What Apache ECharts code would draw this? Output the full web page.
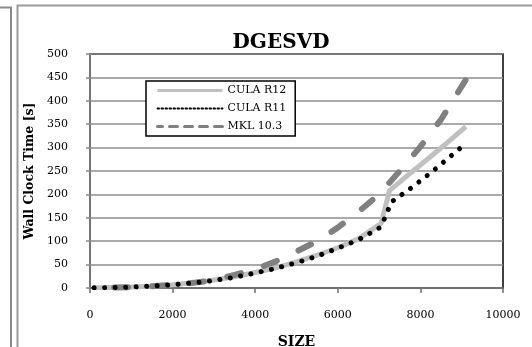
<!DOCTYPE html>
<html>
<head>
<meta charset="utf-8">
<script src="https://cdn.jsdelivr.net/npm/echarts@6/dist/echarts.min.js"></script>
<style>html,body{margin:0;padding:0;background:#fff}#c{width:532px;height:347px}</style>
</head>
<body>
<div id="c"></div>
<script>
const seriesNames = ['CULA R12', 'CULA R11', 'MKL 10.3'];
const culaR12 = [[100,0.5],[500,1],[1000,2],[1500,4],[2000,7],[2500,11],[3000,17],[3500,24],[4000,33],[4500,43],[5000,56],[5500,70],[6000,86],[6500,105],[7050,138],[7250,208],[7750,245],[8250,281],[8750,318],[9100,345]];
const culaR11 = [[100,0.3],[500,1],[1000,2],[1500,4],[2000,7],[2500,11],[3000,16],[3500,23],[4000,32],[4500,42],[5000,54],[5500,68],[6000,85],[6500,103],[7000,128],[7100,142],[7300,184],[7750,212],[8250,246],[8750,283],[9050,305]];
const mkl103 = [[100,0.5],[500,1],[1000,2],[1500,3.5],[2000,7],[2500,11],[3000,17],[3500,28],[4000,40],[4500,57],[5000,78],[5500,100],[6000,129],[6500,163],[7000,200],[7500,250],[8000,302],[8500,360],[9100,445]];
const xTicks = {min: 0, max: 10000, interval: 2000};
const yTicks = {min: 0, max: 500, interval: 50};

const FONT = 'DejaVu Serif';
const chart = echarts.init(document.getElementById('c'), null, {renderer: 'canvas'});
const hideSym = {color: 'transparent', borderWidth: 0, opacity: 0};
chart.setOption({
  animation: false,
  backgroundColor: '#fff',
  textStyle: {fontFamily: FONT, color: '#000'},
  title: {
    text: 'DGESVD', left: 276, top: 28, textAlign: 'center',
    textStyle: {fontFamily: FONT, fontWeight: 'bold', fontSize: 20, color: '#000'}
  },
  graphic: [
    {type: 'polyline', shape: {points: [[0, 7.5], [11, 7.5], [11, 347]]}, style: {stroke: '#8a8a8a', lineWidth: 2, fill: null}, silent: true},
    {type: 'polyline', shape: {points: [[17.5, 347], [17.5, 5.5], [532, 5.5]]}, style: {stroke: '#9a9a9a', lineWidth: 2, fill: null}, silent: true}
  ],
  grid: {left: 90, right: 29, top: 54, bottom: 59, show: true, borderColor: '#000', borderWidth: 1.5,
         backgroundColor: 'transparent', containLabel: false, outerBoundsMode: 'none'},
  legend: {
    orient: 'vertical', left: 146, top: 81,
    borderColor: '#000', borderWidth: 1.5, backgroundColor: '#fff',
    padding: [4, 9, 4, 10], itemWidth: 65, itemHeight: 12, itemGap: 7,
    textStyle: {fontFamily: FONT, fontSize: 11, color: '#000'},
    itemStyle: hideSym,
    data: [
      {name: seriesNames[0], itemStyle: hideSym, lineStyle: {width: 3, color: '#c0c0c0', type: 'solid'}},
      {name: seriesNames[1], itemStyle: hideSym, lineStyle: {width: 2, color: '#000', type: [1.5, 2.5]}},
      {name: seriesNames[2], itemStyle: hideSym, lineStyle: {width: 3, color: '#808080', type: [8, 7]}}
    ]
  },
  xAxis: {
    type: 'value', min: xTicks.min, max: xTicks.max, interval: xTicks.interval,
    name: 'SIZE', nameLocation: 'middle', nameGap: 47,
    nameTextStyle: {fontFamily: FONT, fontWeight: 'bold', fontSize: 14, color: '#000'},
    axisLine: {show: true, lineStyle: {color: '#707070', width: 1.5}},
    axisTick: {show: true, length: 5, lineStyle: {color: '#707070', width: 1.5}},
    axisLabel: {margin: 22, fontFamily: FONT, fontSize: 11, color: '#000', formatter: v => String(v)},
    splitLine: {show: false}
  },
  yAxis: {
    type: 'value', min: yTicks.min, max: yTicks.max, interval: yTicks.interval,
    name: 'Wall Clock Time [s]', nameLocation: 'middle', nameGap: 53,
    nameTextStyle: {fontFamily: FONT, fontWeight: 'bold', fontSize: 12.5, color: '#000'},
    axisLine: {show: true, lineStyle: {color: '#8a8a8a', width: 1.5}},
    axisTick: {show: true, length: 4, lineStyle: {color: '#8a8a8a', width: 1.5}},
    axisLabel: {margin: 22, fontFamily: FONT, fontSize: 11, color: '#000', formatter: v => String(v)},
    splitLine: {show: true, lineStyle: {color: '#8c8c8c', width: 1.5}}
  },
  series: [
    {name: seriesNames[0], type: 'line', data: culaR12, symbol: 'none', z: 2, itemStyle: {color: '#c0c0c0'},
     lineStyle: {color: '#c0c0c0', width: 5, type: 'solid', join: 'round'}},
    {name: seriesNames[1], type: 'line', data: culaR11, symbol: 'none', z: 4, itemStyle: {color: '#000'},
     lineStyle: {color: '#000', width: 5, type: [0.01, 10.5], cap: 'round'}},
    {name: seriesNames[2], type: 'line', data: mkl103, symbol: 'none', z: 3, itemStyle: {color: '#808080'},
     lineStyle: {color: '#808080', width: 6, type: [14, 24], dashOffset: 18, cap: 'round'}}
  ]
});
</script>
</body>
</html>
